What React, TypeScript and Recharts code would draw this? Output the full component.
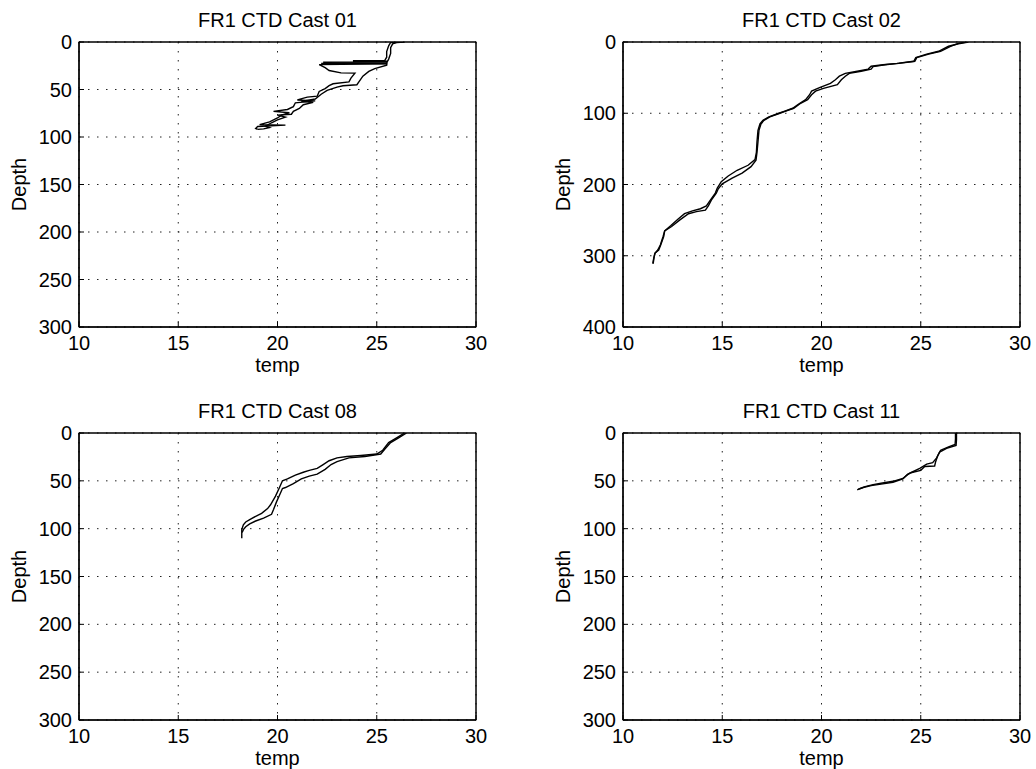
import { LineChart, Line, XAxis, YAxis, CartesianGrid, ReferenceArea } from "recharts";

// each profile point is [temp, depth]
type Pt = [number, number];

const tempTicks = [10, 15, 20, 25, 30];
const depthTicks300 = [0, 50, 100, 150, 200, 250, 300];
const depthTicks400 = [0, 100, 200, 300, 400];

const cast01Down: Pt[] = [
  [26.3, 0], [25.7, 0.5], [25.6, 4], [25.5, 10], [25.5, 16], [25.4, 19.5], [23.8, 19.8],
  [25.5, 20.3], [25.5, 21], [22.3, 21.3], [25.5, 22], [25.5, 23], [22.1, 23.8], [22.4, 27],
  [22.6, 30], [23.2, 32.5], [23.9, 32.8], [23.7, 38], [23.6, 42], [22.8, 44], [22.6, 46],
  [22.4, 49], [22.1, 52], [22.0, 57], [21.5, 58], [21.0, 61], [21.9, 62], [20.9, 64],
  [20.8, 68], [20.5, 71], [19.8, 73], [20.6, 74.5], [20.2, 77], [20.0, 80], [19.6, 84],
  [19.1, 87], [20.4, 87.5], [19.0, 89], [18.9, 91], [19.0, 92],
];
const cast01Up: Pt[] = [
  [19.0, 92], [19.3, 91.5], [19.6, 90], [19.4, 88.5], [19.7, 85], [20.0, 82], [20.4, 79],
  [20.0, 77], [20.7, 76], [20.8, 73], [21.1, 70], [21.3, 66], [21.8, 63.5], [21.2, 62.5],
  [21.9, 60], [22.2, 55], [22.5, 51], [23.0, 47.5], [23.3, 46], [24.0, 45], [24.1, 42],
  [24.3, 36], [24.6, 31], [24.9, 28], [25.5, 24.5], [25.5, 22.8], [22.2, 22.5], [25.5, 22],
  [25.6, 18], [25.7, 12], [25.7, 6], [25.8, 2], [26.0, 0.5], [26.4, 0],
];

const cast02Down: Pt[] = [
  [27.3, 0], [26.9, 2], [26.5, 6], [26.0, 13], [25.4, 17], [24.8, 22], [24.7, 27], [23.9, 30],
  [23.2, 32], [22.6, 34.5], [22.5, 38], [22.0, 41], [21.4, 44], [21.2, 48], [21.0, 53],
  [20.8, 60], [20.1, 65], [19.7, 69], [19.5, 74], [19.3, 81], [18.9, 87], [18.6, 93],
  [18.2, 97], [17.9, 100], [17.4, 105], [17.1, 110], [16.95, 115], [16.85, 124], [16.8, 140],
  [16.75, 155], [16.7, 166], [16.45, 175], [16.0, 184], [15.5, 191], [15.0, 199], [14.8, 206],
  [14.7, 212], [14.45, 222], [14.3, 230], [14.15, 236], [13.7, 238], [13.3, 241], [12.85, 250],
  [12.45, 259], [12.1, 265], [12.05, 273], [11.9, 285], [11.8, 292], [11.62, 296],
  [11.55, 303], [11.5, 311],
];
const cast02Up: Pt[] = [
  [27.4, 0], [26.9, 2.5], [26.4, 6], [25.9, 13], [25.3, 17], [24.75, 22], [24.65, 27],
  [23.8, 30], [23.1, 32], [22.5, 34], [22.35, 38], [21.8, 41], [21.2, 44], [20.9, 48],
  [20.7, 53], [20.45, 58], [19.9, 64], [19.5, 69], [19.4, 74], [19.2, 81], [18.85, 87],
  [18.55, 93], [18.15, 97], [17.85, 100], [17.35, 105], [17.05, 110], [16.9, 115],
  [16.8, 124], [16.75, 140], [16.72, 155], [16.65, 165], [16.3, 173], [15.75, 180],
  [15.3, 188], [14.95, 196], [14.75, 205], [14.65, 212], [14.4, 222], [14.2, 230],
  [13.9, 234], [13.5, 237], [13.1, 241], [12.75, 249], [12.4, 258], [12.1, 265],
  [12.02, 273], [11.88, 285], [11.75, 292], [11.6, 297], [11.55, 305], [11.52, 311],
];

const cast08Down: Pt[] = [
  [26.4, 0], [26.0, 5], [25.6, 10], [25.3, 18], [25.0, 22], [24.2, 23.5], [23.5, 24.5],
  [23.0, 26], [22.6, 29], [22.3, 33], [22.0, 37], [21.6, 39], [21.3, 41], [20.9, 44],
  [20.5, 48], [20.25, 50], [20.1, 57], [19.9, 66], [19.65, 75], [19.5, 79], [19.2, 84],
  [19.0, 86], [18.6, 90.5], [18.4, 93], [18.28, 96], [18.2, 101], [18.2, 110],
];
const cast08Up: Pt[] = [
  [26.5, 0], [26.1, 5], [25.7, 10], [25.4, 17], [25.2, 22], [24.4, 24.5], [23.6, 26],
  [23.0, 30], [22.7, 33], [22.4, 38], [22.0, 43], [21.6, 45], [21.2, 48], [20.8, 53],
  [20.4, 57], [20.25, 58], [20.1, 65], [19.95, 72], [19.8, 80], [19.7, 85], [19.3, 89],
  [18.9, 92], [18.6, 95], [18.4, 98], [18.28, 101], [18.22, 104],
];

const cast11Down: Pt[] = [
  [26.75, 0], [26.75, 6], [26.73, 12], [26.4, 14.5], [26.0, 18], [25.85, 24], [25.75, 30],
  [25.7, 34.5], [25.2, 35], [25.0, 39], [24.5, 41.5], [24.3, 44], [24.1, 47.5], [23.6, 50.5],
  [23.0, 52.5], [22.6, 54], [22.2, 56], [21.95, 58], [21.8, 59.5],
];
const cast11Up: Pt[] = [
  [26.8, 0], [26.8, 7], [26.78, 13], [26.3, 16], [25.95, 20], [25.8, 26], [25.6, 31],
  [25.3, 32.5], [24.95, 37], [24.6, 40.5], [24.35, 43], [24.1, 48], [23.6, 51.5],
  [23.0, 53.5], [22.5, 55], [22.1, 57], [21.85, 59],
];

const FONT = '"Liberation Sans", Arial, Helvetica, sans-serif';
const tickStyle = { fill: "#000", fontSize: 20, fontFamily: FONT };

interface PanelProps {
  title: string;
  profiles: Pt[][];
  depthMax: number;
  depthTicks: number[];
  left: number;
  top: number;
  width: number;
  height: number;
  // plot box in page coordinates
  px: number;
  py: number;
  pw: number;
  ph: number;
}

const Panel = (p: PanelProps) => {
  const axisW = p.px - p.left;
  const axisH = p.top + p.height - (p.py + p.ph);
  const cx = p.px + p.pw / 2 - p.left;
  const labelX = p.px - p.left - 53.5;
  const labelY = p.py + p.ph / 2 - p.top;
  return (
    <div style={{ position: "absolute", left: p.left, top: p.top, width: p.width, height: p.height }}>
      <LineChart
        width={p.width}
        height={p.height}
        margin={{ top: p.py - p.top, right: p.left + p.width - (p.px + p.pw), bottom: 0, left: 0 }}
      >
        <CartesianGrid stroke="#222" strokeDasharray="1.5 7.5" />
        <XAxis
          type="number"
          dataKey="t"
          domain={[10, 30]}
          ticks={tempTicks}
          interval={0}
          allowDataOverflow
          height={axisH}
          tick={tickStyle}
          tickSize={-5}
          tickMargin={14}
          stroke="#000"
        />
        <YAxis
          type="number"
          dataKey="d"
          reversed
          domain={[0, p.depthMax]}
          ticks={p.depthTicks}
          interval={0}
          allowDataOverflow
          width={axisW}
          tick={tickStyle}
          tickSize={-5}
          tickMargin={12}
          stroke="#000"
        />
        <ReferenceArea
          x1={10}
          x2={30}
          y1={0}
          y2={p.depthMax}
          ifOverflow="visible"
          fill="none"
          fillOpacity={0}
          stroke="#000"
          strokeWidth={1}
        />
        {p.profiles.map((prof, i) => (
          <Line
            key={i}
            data={prof.map(([t, d]) => ({ t, d }))}
            dataKey="d"
            stroke="#000"
            strokeWidth={1.4}
            dot={false}
            activeDot={false}
            isAnimationActive={false}
          />
        ))}
      </LineChart>
      <svg
        width={p.width}
        height={p.height}
        style={{ position: "absolute", left: 0, top: 0, pointerEvents: "none", overflow: "visible" }}
        fontFamily={FONT}
        fontSize={20}
      >
        {/* axes box (MATLAB "box on") */}
        <rect
          x={p.px - p.left}
          y={p.py - p.top}
          width={p.pw}
          height={p.ph}
          fill="none"
          stroke="#000"
          strokeWidth={1}
        />
        <text x={cx} y={p.py - p.top - 15} textAnchor="middle" fill="#000">
          {p.title}
        </text>
        <text x={cx} y={p.py + p.ph - p.top + 45} textAnchor="middle" fill="#000">
          temp
        </text>
        <text
          x={labelX}
          y={labelY}
          textAnchor="middle"
          fill="#000"
          transform={`rotate(-90 ${labelX} ${labelY})`}
        >
          Depth
        </text>
      </svg>
    </div>
  );
};

export default function App() {
  return (
    <div style={{ position: "absolute", left: 0, top: 0, width: 1036, height: 769, background: "#fff", overflow: "hidden" }}>
      <Panel
        title="FR1 CTD Cast 01"
        profiles={[cast01Down, cast01Up]}
        depthMax={300}
        depthTicks={depthTicks300}
        left={0} top={0} width={518} height={384}
        px={79} py={42} pw={397} ph={285}
      />
      <Panel
        title="FR1 CTD Cast 02"
        profiles={[cast02Down, cast02Up]}
        depthMax={400}
        depthTicks={depthTicks400}
        left={518} top={0} width={518} height={384}
        px={623} py={42} pw={397} ph={285}
      />
      <Panel
        title="FR1 CTD Cast 08"
        profiles={[cast08Down, cast08Up]}
        depthMax={300}
        depthTicks={depthTicks300}
        left={0} top={384} width={518} height={385}
        px={79} py={433} pw={397} ph={287}
      />
      <Panel
        title="FR1 CTD Cast 11"
        profiles={[cast11Down, cast11Up]}
        depthMax={300}
        depthTicks={depthTicks300}
        left={518} top={384} width={518} height={385}
        px={623} py={433} pw={397} ph={287}
      />
    </div>
  );
}
